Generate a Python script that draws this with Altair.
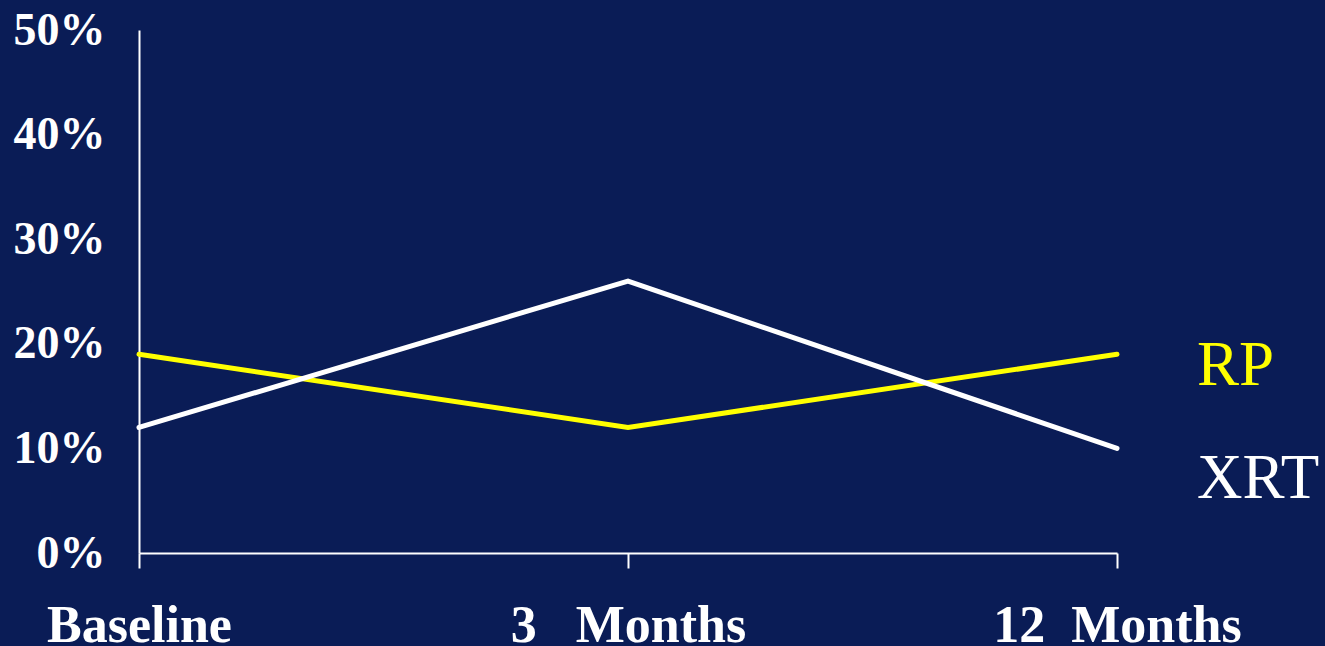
import altair as alt
import pandas as pd

times = ["Baseline", "3\u00a0\u00a0\u00a0Months", "12\u00a0\u00a0Months"]
rp = [0.19, 0.12, 0.19]
xrt = [0.12, 0.26, 0.10]
series = ["RP", "XRT"]
colors = ["#ffff00", "#ffffff"]
bg = "#0a1c56"
font = "Liberation Serif"

rows = []
for name, vals in zip(series, [rp, xrt]):
    for t, v in zip(times, vals):
        rows.append({"time": t, "value": v, "series": name})
df = pd.DataFrame(rows)
last = df[df["time"] == times[-1]]

x = alt.X("time:O", sort=times, scale=alt.Scale(type="point", padding=0),
          axis=alt.Axis(title=None, labelAngle=0, domainColor="white", domainWidth=2,
                        tickColor="white", tickWidth=2, tickSize=15,
                        labelColor="white", labelFont=font, labelFontSize=52,
                        labelFontWeight="bold", labelPadding=32, labelLimit=0,
                        labelOverlap=False))
y = alt.Y("value:Q", scale=alt.Scale(domain=[0, 0.5]),
          axis=alt.Axis(title=None, format=".0%", values=[0, 0.1, 0.2, 0.3, 0.4, 0.5],
                        grid=False, ticks=False, domainColor="white", domainWidth=2,
                        labelColor="white", labelFont=font, labelFontSize=46,
                        labelFontWeight="bold", labelPadding=34))
color = alt.Color("series:N", scale=alt.Scale(domain=series, range=colors), legend=None)

lines = alt.Chart(df).mark_line(strokeWidth=5, strokeCap="round").encode(x=x, y=y, color=color)

lab_rp = alt.Chart(last[last["series"] == "RP"]).mark_text(
    align="left", baseline="middle", dx=80, dy=12, font=font, fontSize=63
).encode(x=alt.X("time:O", sort=times), y="value:Q", text="series:N", color=color)
lab_xrt = alt.Chart(last[last["series"] == "XRT"]).mark_text(
    align="left", baseline="middle", dx=80, dy=31, font=font, fontSize=63
).encode(x=alt.X("time:O", sort=times), y="value:Q", text="series:N", color=color)

chart = alt.layer(lines, lab_rp, lab_xrt).properties(
    width=978, height=523, background=bg,
    padding={"left": 139, "top": 30, "right": 208, "bottom": 93},
    autosize=alt.AutoSizeParams(type="none"),
).configure_view(stroke=None)

chart.save("out.html", embed_options={"renderer": "svg", "actions": False})
